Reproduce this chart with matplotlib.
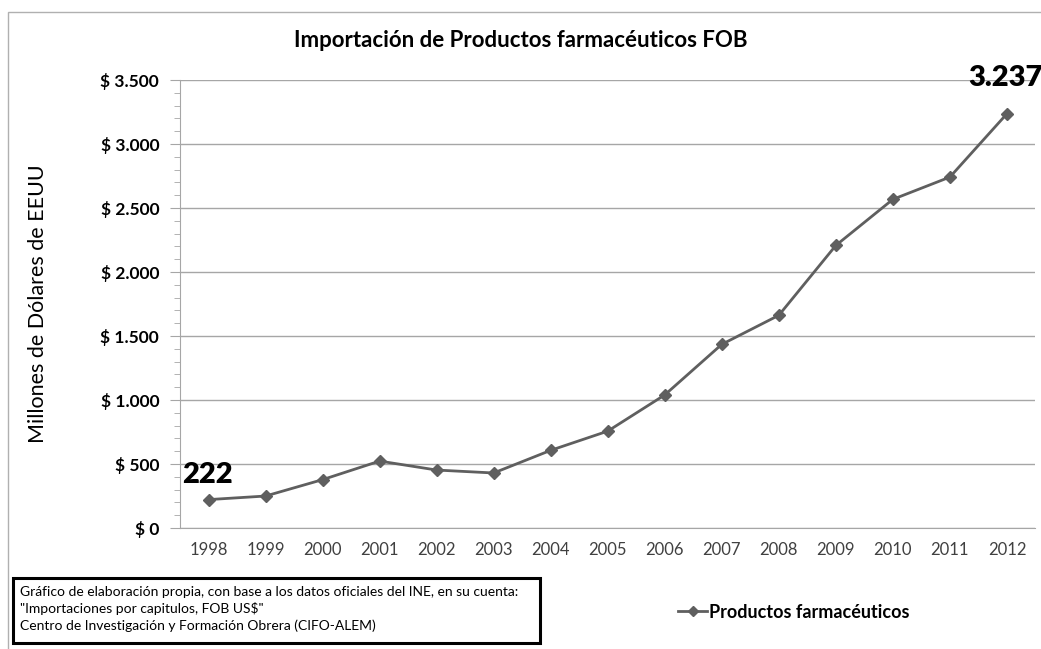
import numpy as np
import matplotlib.pyplot as plt
from matplotlib.patches import Rectangle
from matplotlib.lines import Line2D

plt.rcParams['font.family'] = ['Lato', 'DejaVu Sans']

# Data (millones de USD)
years = ['1998', '1999', '2000', '2001', '2002', '2003', '2004', '2005',
         '2006', '2007', '2008', '2009', '2010', '2011', '2012']
values = [222, 250, 378, 523, 453, 430, 607, 757,
          1040, 1435, 1662, 2208, 2568, 2742, 3237]
y_ticks = [0, 500, 1000, 1500, 2000, 2500, 3000, 3500]
y_labels = ['$ 0', '$ 500', '$ 1.000', '$ 1.500', '$ 2.000', '$ 2.500', '$ 3.000', '$ 3.500']

line_color = '#5f5f5f'
grid_color = '#a6a6a6'

fig = plt.figure(figsize=(10.41, 6.49), dpi=100)
ax = fig.add_axes([0.1729, 0.1864, 0.8218, 0.6903])

x = np.arange(len(years))
ax.plot(x, values, color=line_color, lw=2, marker='D', ms=6,
        markerfacecolor=line_color, markeredgecolor=line_color)

ax.set_xlim(-0.5, len(years) - 0.5)
ax.set_ylim(0, 3500)
ax.set_xticks(x)
ax.set_xticklabels(years, fontsize=12, color='#404040')
ax.tick_params(axis='x', length=0, pad=10)
ax.set_yticks(y_ticks)
ax.set_yticklabels(y_labels, fontsize=12.5, fontweight='bold')
ax.set_yticks(np.arange(0, 3501, 100), minor=True)
ax.tick_params(axis='y', which='major', length=7, color=grid_color, pad=8)
ax.tick_params(axis='y', which='minor', length=4, color=grid_color)

ax.grid(axis='y', color=grid_color, lw=1)
ax.set_axisbelow(True)
for s in ['top', 'right']:
    ax.spines[s].set_visible(False)
for s in ['left', 'bottom']:
    ax.spines[s].set_color(grid_color)

ax.set_ylabel('Millones de Dólares de EEUU', fontsize=15.5, labelpad=38)

# Data labels for first and last points
ax.annotate(str(values[0]), (x[0], values[0]), xytext=(-19, 12),
            textcoords='offset points', fontsize=21, fontweight='heavy')
ax.annotate('3.237', (x[-1], values[-1]), xytext=(-28, 20),
            textcoords='offset points', fontsize=21, fontweight='heavy',
            annotation_clip=False)

fig.text(0.5, 0.938, 'Importación de Productos farmacéuticos FOB',
         ha='center', va='center', fontsize=16, fontweight='bold')

# outer chart border
fig.patches.append(Rectangle((8 / 1041, -0.1), 1.2, 1 - 12 / 649 + 0.1,
                             transform=fig.transFigure, fill=False,
                             edgecolor='#b0b0b0', lw=1))

# source box
fig.patches.append(Rectangle((13 / 1041, 6 / 649), 527 / 1041, 65 / 649,
                             transform=fig.transFigure, fill=False,
                             edgecolor='black', lw=2.2))
fig.text(20 / 1041, 1 - 609 / 649,
         'Gráfico de elaboración propia, con base a los datos oficiales del INE, en su cuenta:\n'
         '"Importaciones por capitulos, FOB US$"\n'
         'Centro de Investigación y Formación Obrera (CIFO-ALEM)',
         fontsize=10, va='center', ha='left', linespacing=1.35)

# legend
handle = Line2D([], [], color=line_color, lw=2, marker='D', ms=5)
fig.legend([handle], ['Productos farmacéuticos'], loc='center',
           bbox_to_anchor=(794 / 1041, 1 - 612 / 649), frameon=False,
           prop={'size': 13, 'weight': 'bold'}, handlelength=1.6,
           handletextpad=0.1)

fig.savefig('out.png', dpi=100)
